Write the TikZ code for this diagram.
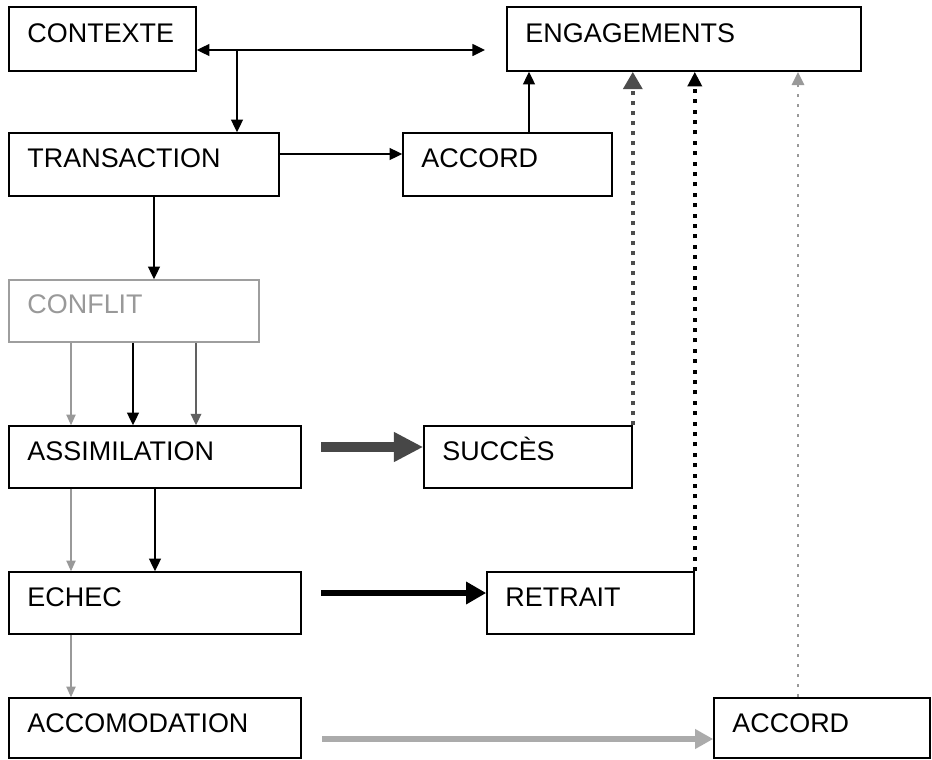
\documentclass[tikz,border=0pt]{standalone}
\usepackage{fontspec}
\setmainfont{Liberation Sans}
\usetikzlibrary{arrows.meta,fit,calc}
\begin{document}
\begin{tikzpicture}[x=0.75pt,y=-0.75pt,
  box/.style={draw=black,line width=1.2pt,inner sep=0pt},
  graybox/.style={box,draw=black!38},
  lbl/.style={anchor=base west,inner sep=0pt,font=\fontsize{20.2}{24}\selectfont},
  arr/.style={line width=1.1pt,-{Triangle[length=9.5pt,width=9pt]}},
  grayarr/.style={line width=0.9pt,draw=black!40,-{Triangle[length=8pt,width=7pt,fill=black!40]}},
  midarr/.style={line width=1pt,draw=black!62,-{Triangle[length=8.5pt,width=8pt,fill=black!62]}},
  fatarr/.style={line width=7pt,draw=black!72,-{Triangle[length=22pt,width=21pt,fill=black!72]}},
  blackfat/.style={line width=4.5pt,draw=black,-{Triangle[length=15pt,width=16pt]}},
  lightfat/.style={line width=5pt,draw=black!33,-{Triangle[length=13.5pt,width=14pt,fill=black!33]}},
  dotA/.style={line width=3.2pt,draw=black!70,dash pattern=on 3pt off 4.5pt,
    -{Triangle[length=13pt,width=14pt,fill=black!70]}},
  dotB/.style={line width=3pt,draw=black,dash pattern=on 3pt off 4.8pt,
    -{Triangle[length=11pt,width=10.5pt,fill=black]}},
  dotC/.style={line width=2.2pt,draw=black!40,dash pattern=on 2.2pt off 5.3pt,
    -{Triangle[length=10pt,width=9pt,fill=black!40]}}]
\useasboundingbox[fill=white] (0,0) rectangle (932,760);

% boxes
\node[box, fit={(9,7)(196,71)}] (ctx) {};
\node[lbl] (ctxT) at ([shift={(19,36)}]ctx.north west) {CONTEXTE};
\node[box, fit={(507,7)(861,71)}] (eng) {};
\node[lbl] (engT) at ([shift={(19,36)}]eng.north west) {ENGAGEMENTS};
\node[box, fit={(9,133)(279,196)}] (tra) {};
\node[lbl] (traT) at ([shift={(19,35)}]tra.north west) {TRANSACTION};
\node[box, fit={(403,133)(612,196)}] (acc1) {};
\node[lbl] (acc1T) at ([shift={(19,35)}]acc1.north west) {ACCORD};
\node[graybox, fit={(9,280)(259,342)}] (con) {};
\node[lbl,text=black!40] (conT) at ([shift={(19,34)}]con.north west) {CONFLIT};
\node[box, fit={(9,426)(301,488)}] (ass) {};
\node[lbl] (assT) at ([shift={(19,35)}]ass.north west) {ASSIMILATION};
\node[box, fit={(424,426)(632,488)}] (suc) {};
\node[lbl] (sucT) at ([shift={(19,35)}]suc.north west) {SUCCÈS};
\node[box, fit={(9,572)(301,634)}] (ech) {};
\node[lbl] (echT) at ([shift={(19,35)}]ech.north west) {ECHEC};
\node[box, fit={(487,572)(694,634)}] (ret) {};
\node[lbl] (retT) at ([shift={(19,35)}]ret.north west) {RETRAIT};
\node[box, fit={(9,698)(301,758)}] (acm) {};
\node[lbl] (acmT) at ([shift={(19,35)}]acm.north west) {ACCOMODATION};
\node[box, fit={(714,698)(930,758)}] (acc2) {};
\node[lbl] (acc2T) at ([shift={(19,35)}]acc2.north west) {ACCORD};

% thin connectors
\coordinate (engIn) at (485,50);
\coordinate (br) at (237,50);
\draw[line width=1.1pt,{Triangle[length=9.5pt,width=9pt]}-{Triangle[length=9.5pt,width=9pt]}]
  (ctx.east |- engIn) -- (engIn);
\draw[arr] (br) -- (br |- tra.north);
\draw[arr] (tra.east |- 0,154) -- (acc1.west |- 0,154);
\draw[arr] (acc1.north -| 529,0) -- (eng.south -| 529,0);
\draw[arr] (tra.south -| 154,0) -- (con.north -| 154,0);
\draw[grayarr] (con.south -| 71,0) -- (ass.north -| 71,0);
\draw[arr] (con.south -| 133,0) -- (ass.north -| 133,0);
\draw[midarr] (con.south -| 196,0) -- (ass.north -| 196,0);
\draw[grayarr] (ass.south -| 71,0) -- (ech.north -| 71,0);
\draw[arr] (ass.south -| 155,0) -- (ech.north -| 155,0);
\draw[grayarr] (ech.south -| 71,0) -- (acm.north -| 71,0);

% fat connectors
\coordinate (sA) at (321,447);
\coordinate (sB) at (321,593);
\coordinate (sC) at (322,739);
\draw[fatarr] (sA) -- (suc.west |- sA);
\draw[blackfat] (sB) -- (ret.west |- sB);
\draw[lightfat] (sC) -- (acc2.west |- sC);

% dotted connectors
\draw[dotA] (suc.north east) -- (eng.south -| suc.north east);
\draw[dotB] (ret.north east) -- (eng.south -| ret.north east);
\draw[dotC] (acc2.north -| 798,0) -- (eng.south -| 798,0);
\end{tikzpicture}
\end{document}
